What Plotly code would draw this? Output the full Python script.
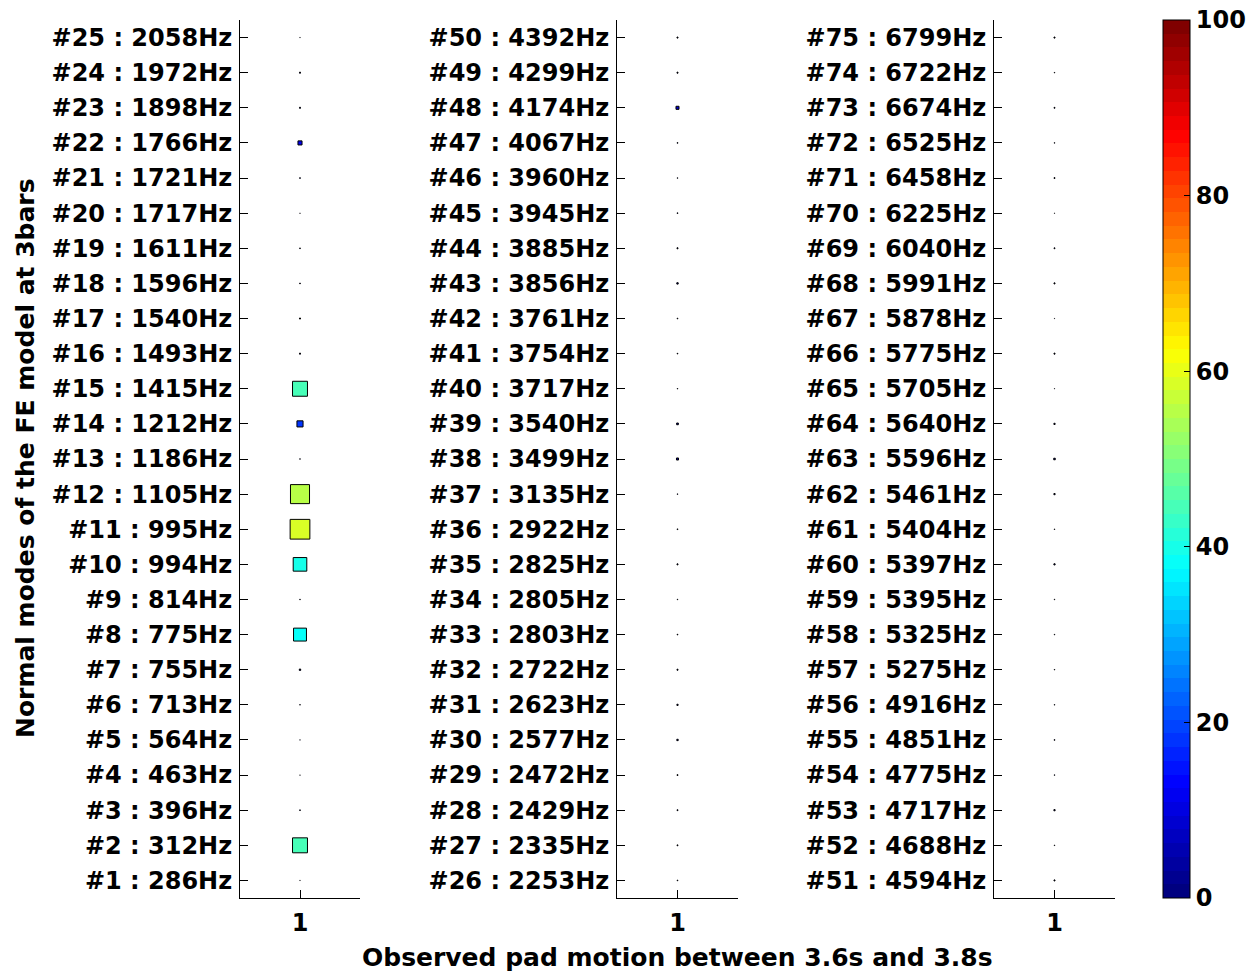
import plotly.graph_objects as go
import numpy as np

# ---------------- data ----------------
x_category = [1]
modes_1 = list(range(1, 26))
modes_2 = list(range(26, 51))
modes_3 = list(range(51, 76))
freqs_1 = [286, 312, 396, 463, 564, 713, 755, 775, 814, 994, 995, 1105, 1186,
           1212, 1415, 1493, 1540, 1596, 1611, 1717, 1721, 1766, 1898, 1972, 2058]
freqs_2 = [2253, 2335, 2429, 2472, 2577, 2623, 2722, 2803, 2805, 2825, 2922, 3135, 3499,
           3540, 3717, 3754, 3761, 3856, 3885, 3945, 3960, 4067, 4174, 4299, 4392]
freqs_3 = [4594, 4688, 4717, 4775, 4851, 4916, 5275, 5325, 5395, 5397, 5404, 5461, 5596,
           5640, 5705, 5775, 5878, 5991, 6040, 6225, 6458, 6525, 6674, 6722, 6799]
# observed participation (0-100) per mode
amp_1 = [1, 44, 2, 1, 1, 1.5, 4, 38, 1.5, 40, 58, 56, 1.5,
         18, 44, 3, 3, 2, 2, 1, 2, 12, 3, 3, 1]
amp_2 = [2, 2.5, 2.5, 2.5, 4, 3.5, 3, 2, 1.5, 3, 2, 1.5, 6,
         5, 1.5, 2, 2, 4, 3, 2, 1.5, 2, 9, 3, 3]
amp_3 = [3, 1.5, 3.5, 1.5, 2, 1.5, 1.5, 1.5, 1.5, 3.5, 1.5, 3.5, 4.5,
         3.5, 1, 3, 1, 3, 2.5, 1, 2.5, 1.5, 2.5, 1.5, 3]
cbar_ticks = [0, 20, 40, 60, 80, 100]
x_title = "Observed pad motion between 3.6s and 3.8s"
y_title = "Normal modes of the FE model at 3bars"

# ---------------- style ----------------
W, H = 1257, 974
FONT = dict(family="DejaVu Sans", size=24, color="black", weight="bold")
TITLE_FONT = dict(family="DejaVu Sans", size=25, color="black", weight="bold")
panels_px = [(240, 360), (617, 738), (994, 1115)]
y_top_px, y_bot_px = 20, 898
size_scale = 0.34


def jet(t):
    r = np.clip(1.5 - abs(4 * t - 3), 0, 1)
    g = np.clip(1.5 - abs(4 * t - 2), 0, 1)
    b = np.clip(1.5 - abs(4 * t - 1), 0, 1)
    return "rgb(%d,%d,%d)" % (round(r * 255), round(g * 255), round(b * 255))


# stepped 64-level jet colour scale (like MATLAB's jet(64))
n = 64
colorscale = []
for i in range(n):
    c = jet(i / (n - 1))
    colorscale.append([i / n, c])
    colorscale.append([(i + 1) / n, c])

fig = go.Figure()
panels = [(modes_1, freqs_1, amp_1), (modes_2, freqs_2, amp_2), (modes_3, freqs_3, amp_3)]
for k, (modes, freqs, amp) in enumerate(panels):
    idx = "" if k == 0 else str(k + 1)
    fig.add_trace(go.Scatter(
        x=x_category * len(modes),
        y=list(range(1, len(modes) + 1)),
        mode="markers",
        marker=dict(symbol="square", size=[a * size_scale for a in amp], opacity=1,
                    color=amp, cmin=0, cmax=100, colorscale=colorscale,
                    line=dict(color="black", width=1),
                    showscale=(k == 0),
                    colorbar=dict(
                        x=1163 / W, xanchor="left", xref="paper",
                        y=1 - y_bot_px / H, yanchor="bottom",
                        len=(y_bot_px - y_top_px) / H, lenmode="fraction",
                        thickness=27, thicknessmode="pixels",
                        xpad=0, ypad=0,
                        outlinecolor="black", outlinewidth=1,
                        tickvals=cbar_ticks, ticks="inside", ticklen=6,
                        tickcolor="black", tickfont=FONT),
                    ),
        xaxis="x" + idx, yaxis="y" + idx, showlegend=False, hoverinfo="skip",
    ))
    x0, x1 = panels_px[k]
    fig.update_layout(**{
        "xaxis" + idx: dict(domain=[x0 / W, x1 / W], range=[0, 2], tickvals=x_category,
                            ticks="inside", ticklen=8, tickcolor="black",
                            showline=True, linecolor="black", linewidth=1,
                            showgrid=False, zeroline=False, tickfont=FONT,
                            anchor="y" + idx, automargin=False, fixedrange=True,
                            ticklabelstandoff=3),
        "yaxis" + idx: dict(domain=[1 - y_bot_px / H, 1 - y_top_px / H], range=[0.5, 25.5],
                            tickvals=list(range(1, len(modes) + 1)),
                            ticktext=["#%d : %dHz" % (m, f) for m, f in zip(modes, freqs)],
                            ticks="inside", ticklen=8, tickcolor="black",
                            showline=True, linecolor="black", linewidth=1,
                            showgrid=False, zeroline=False, tickfont=FONT,
                            anchor="x" + idx, automargin=False, fixedrange=True,
                            ticklabelstandoff=2),
    })

fig.add_annotation(text=x_title, xref="paper", yref="paper", x=677 / W, y=1 - 957 / H,
                   showarrow=False, font=TITLE_FONT, xanchor="center", yanchor="middle")
fig.add_annotation(text=y_title, xref="paper", yref="paper", x=25 / W, y=1 - 458 / H,
                   showarrow=False, font=TITLE_FONT, textangle=-90, xanchor="center",
                   yanchor="middle")

fig.update_layout(width=W, height=H, margin=dict(l=0, r=0, t=0, b=0),
                  paper_bgcolor="white", plot_bgcolor="white", font=FONT)
fig.write_html("out.html")
